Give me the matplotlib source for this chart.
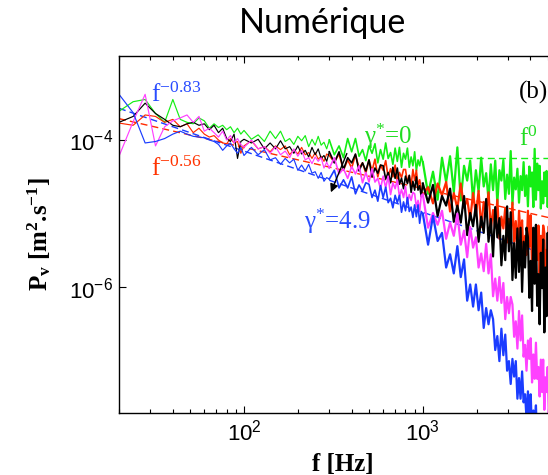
import numpy as np
import matplotlib
matplotlib.use('Agg')
import matplotlib.pyplot as plt
from matplotlib.ticker import LogLocator, NullLocator

# serif (Times-like) for math text, Helvetica-like for tick numbers
plt.rcParams['mathtext.fontset'] = 'custom'
plt.rcParams['mathtext.rm'] = 'Liberation Serif'
plt.rcParams['mathtext.it'] = 'Liberation Serif:italic'
plt.rcParams['mathtext.bf'] = 'Liberation Serif:bold'
plt.rcParams['mathtext.sf'] = 'Liberation Sans'
plt.rcParams['savefig.bbox'] = 'standard'

# frequency bins [Hz]
freq = [20, 24, 28, 32, 36, 40, 44, 48, 52, 56, 60, 64, 68, 72, 76, 80, 84, 88, 92, 96,
        100, 110, 120, 130, 140, 150, 160, 170, 180, 190, 200, 210, 220, 230, 240, 250, 260, 270, 280, 290,
        300, 320, 340, 360, 380, 400, 420, 440, 460, 480, 500, 520, 540, 560, 580, 600, 620, 640, 660, 680,
        700, 720, 740, 760, 780, 800, 820, 840, 860, 880, 900, 920, 940, 960, 980,
        1000, 1070, 1140, 1210, 1280, 1350, 1420, 1490, 1560, 1630, 1700, 1770, 1840, 1910, 1980, 2050,
        2120, 2190, 2260, 2330, 2400, 2470, 2540, 2610, 2680, 2750, 2820, 2890, 2960, 3030, 3100, 3170,
        3240, 3310, 3380, 3450, 3520, 3590, 3660, 3730, 3800, 3870, 3940, 4010, 4080, 4150, 4220, 4290,
        4360, 4430, 4500, 4570, 4640, 4710, 4780, 4850, 4920, 4990, 5060, 5130, 5200]

# log10 of P_v for each gamma*
green_log = [-3.61, -3.48, -3.45, -3.64, -3.76, -3.45, -3.72, -3.76, -3.78, -3.70, -3.74, -3.84, -3.78, -3.83, -3.80, -3.86, -3.82, -3.90, -3.84, -3.92,
             -3.87, -3.99, -3.93, -4.02, -3.88, -3.98, -3.88, -4.02, -3.98, -4.06, -3.95, -4.01, -3.94, -4.09, -3.99, -4.07, -3.95, -4.07, -4.03, -4.12,
             -4.00, -4.20, -4.08, -4.24, -3.98, -4.16, -3.98, -4.22, -4.13, -4.28, -4.08, -4.18, -4.05, -4.31, -4.13, -4.26, -4.04, -4.25, -4.17, -4.33,
             -4.11, -4.29, -4.10, -4.37, -4.18, -4.26, -4.11, -4.37, -4.23, -4.35, -4.16, -4.42, -4.27, -4.35, -4.22,
             -4.30, -4.73, -4.43, -4.81, -4.24, -4.57, -4.22, -4.71, -4.10, -4.82, -4.35, -4.55, -4.28, -4.83, -4.41, -4.70,
             -4.24, -4.63, -4.45, -4.81, -4.33, -4.68, -4.28, -4.86, -4.41, -4.55, -4.27, -4.80, -4.47, -4.73, -4.15, -4.88,
             -4.51, -4.67, -4.39, -4.85, -4.49, -4.68, -4.30, -4.76, -4.48, -4.90, -4.36, -4.63, -4.44, -4.91, -4.12, -4.81,
             -4.32, -4.68, -4.35, -4.93, -4.56, -4.86, -4.44, -4.76, -4.42, -4.91, -4.50, -4.67, -4.40]

red_log = [-3.77, -3.80, -3.66, -3.68, -3.76, -3.72, -3.82, -3.78, -3.90, -3.84, -3.92, -3.96, -3.94, -4.00, -4.04, -4.05, -3.98, -4.04, -4.02, -4.18,
           -4.08, -4.01, -4.12, -4.09, -4.16, -4.08, -4.13, -4.08, -4.20, -4.13, -4.19, -4.10, -4.20, -4.17, -4.25, -4.17, -4.26, -4.22, -4.29, -4.19,
           -4.21, -4.30, -4.19, -4.41, -4.27, -4.38, -4.20, -4.38, -4.31, -4.45, -4.27, -4.42, -4.26, -4.50, -4.34, -4.41, -4.28, -4.51, -4.39, -4.50,
           -4.34, -4.56, -4.44, -4.51, -4.40, -4.40, -4.58, -4.48, -4.62, -4.40, -4.55, -4.41, -4.62, -4.54, -4.67,
           -4.75, -4.64, -4.86, -4.59, -4.75, -4.57, -4.97, -4.72, -4.93, -4.59, -4.92, -4.80, -5.08, -4.72, -5.02, -4.69,
           -5.18, -4.84, -4.99, -4.71, -5.21, -4.95, -5.19, -4.81, -5.34, -5.04, -5.20, -4.92, -5.39, -5.07, -5.28, -4.85,
           -5.38, -5.10, -5.55, -4.96, -5.32, -5.09, -5.63, -5.30, -5.56, -4.96, -5.45, -5.02, -5.75, -5.35, -5.71, -5.18,
           -5.63, -5.16, -5.82, -5.30, -5.56, -5.16, -5.26, -5.86, -5.49, -5.99, -5.17, -5.71, -5.14]

black_log = [-3.76, -3.68, -3.50, -3.64, -3.72, -3.80, -3.82, -3.78, -3.76, -3.80, -3.78, -3.86, -3.80, -3.90, -3.84, -3.98, -4.02, -3.92, -4.25, -4.02,
             -3.99, -4.04, -3.99, -4.12, -4.04, -4.12, -4.01, -4.12, -4.09, -4.18, -4.08, -4.19, -4.14, -4.23, -4.10, -4.20, -4.12, -4.25, -4.21, -4.29,
             -4.16, -4.31, -4.16, -4.40, -4.24, -4.31, -4.19, -4.42, -4.31, -4.42, -4.27, -4.50, -4.38, -4.45, -4.34, -4.35, -4.53, -4.44, -4.58, -4.37,
             -4.52, -4.38, -4.60, -4.52, -4.66, -4.49, -4.59, -4.48, -4.71, -4.56, -4.68, -4.50, -4.68, -4.62, -4.77,
             -4.59, -4.85, -4.61, -5.03, -4.76, -4.89, -4.66, -5.11, -4.89, -5.12, -4.76, -5.29, -4.99, -5.17, -4.88, -5.38,
             -5.04, -5.26, -4.80, -5.38, -5.07, -5.58, -4.91, -5.32, -5.06, -5.70, -5.30, -5.63, -4.90, -5.51, -4.98, -5.90,
             -5.40, -5.87, -5.20, -5.79, -5.19, -6.06, -5.38, -5.73, -5.19, -5.32, -6.14, -5.64, -6.32, -5.19, -5.95, -5.15,
             -6.25, -5.82, -6.50, -5.53, -6.01, -5.35, -6.61, -5.73, -6.39, -5.26, -6.30, -5.88, -6.73]

magenta_log = [-4.22, -3.75, -3.38, -4.08, -3.82, -3.74, -3.70, -3.66, -3.76, -3.68, -3.88, -3.84, -3.90, -3.96, -3.88, -4.00, -3.94, -4.04, -3.98, -4.06,
               -4.10, -4.00, -4.12, -4.09, -4.18, -4.09, -4.20, -4.15, -4.24, -4.12, -4.22, -4.14, -4.27, -4.24, -4.32, -4.23, -4.29, -4.24, -4.38, -4.30,
               -4.38, -4.24, -4.46, -4.39, -4.52, -4.36, -4.46, -4.35, -4.58, -4.44, -4.57, -4.39, -4.57, -4.52, -4.66, -4.49, -4.65, -4.49, -4.74, -4.58,
               -4.66, -4.54, -4.77, -4.67, -4.78, -4.63, -4.86, -4.74, -4.82, -4.71, -4.73, -4.91, -4.82, -4.97, -4.75,
               -4.74, -5.19, -4.99, -5.15, -4.96, -5.34, -5.12, -5.30, -5.00, -5.42, -5.23, -5.59, -5.18, -5.46, -5.32, -5.73,
               -5.54, -5.78, -5.41, -5.81, -5.55, -6.12, -5.88, -6.18, -5.86, -6.21, -5.94, -6.43, -6.13, -6.35, -6.13, -6.23,
               -6.67, -6.46, -6.83, -6.32, -6.72, -6.38, -6.94, -6.78, -7.13, -6.72, -6.97, -6.69, -7.29, -6.91, -7.24, -6.75,
               -7.24, -7.08, -7.48, -6.98, -7.42, -6.98, -7.66, -7.22, -7.42, -7.08, -7.73, -7.42, -7.73]

blue_log = [-3.38, -3.63, -4.04, -4.02, -3.98, -3.92, -3.88, -3.92, -3.95, -3.96, -3.97, -4.00, -4.02, -4.06, -4.14, -4.08, -4.04, -4.12, -4.18, -4.10,
            -4.21, -4.10, -4.20, -4.13, -4.27, -4.24, -4.33, -4.25, -4.31, -4.26, -4.41, -4.34, -4.42, -4.33, -4.45, -4.43, -4.52, -4.44, -4.56, -4.51,
            -4.53, -4.41, -4.65, -4.54, -4.65, -4.50, -4.73, -4.61, -4.69, -4.58, -4.60, -4.78, -4.68, -4.83, -4.62, -4.78, -4.64, -4.85, -4.79, -4.92,
            -4.75, -4.85, -4.75, -4.98, -4.84, -4.96, -4.78, -4.97, -4.91, -5.05, -4.88, -5.04, -4.88, -5.13, -4.97,
            -5.00, -5.42, -5.03, -5.37, -5.26, -5.73, -5.55, -5.81, -5.44, -5.86, -5.62, -6.18, -5.96, -6.26, -5.96, -6.31,
            -6.07, -6.55, -6.28, -6.50, -6.31, -6.43, -6.85, -6.66, -7.00, -6.56, -6.92, -6.64, -7.13, -7.00, -7.31, -6.97,
            -7.21, -7.00, -7.51, -7.23, -7.51, -7.14, -7.56, -7.45, -7.78, -7.41, -7.76, -7.45, -7.98, -7.67, -7.84, -7.60,
            -8.11, -7.90, -8.15, -7.83, -8.34, -8.10, -8.28, -8.06, -8.50, -8.26, -8.46, -8.14, -8.60]

# power-law fits (end points, log10 P)
fit_f = [20, 6400]
red_fit_log = [-3.71, -5.11]
blue_fit_log = [-3.57, -5.65]
green_fit_f = [1500, 6400]
green_fit_log = [-4.24, -4.24]

c_green = '#14ee14'
c_red = '#ff2a00'
c_black = 'black'
c_magenta = '#ff40ff'
c_blue = '#1a3cff'

fig = plt.figure(figsize=(5.48, 4.75), dpi=100)
# axes run past the right edge of the figure, as in the cropped original
ax = fig.add_axes([119/548, 1 - 412.7/475, 448/548, 356.7/475])

# fits sit under the spectra
ax.plot(fit_f, 10**np.array(red_fit_log), color=c_red, lw=1, dashes=(5, 3), zorder=1.5)
ax.plot(fit_f, 10**np.array(blue_fit_log), color=c_blue, lw=1, dashes=(5, 3), zorder=1.5)
ax.plot(green_fit_f, 10**np.array(green_fit_log), color=c_green, lw=1, dashes=(5, 3), zorder=1.5)

# sparse low-f part thin, denser high-f parts heavier so the noise band fills in
k1 = freq.index(300)
k2 = freq.index(1000)
for vals, col in [(green_log, c_green), (red_log, c_red), (black_log, c_black),
                  (magenta_log, c_magenta), (blue_log, c_blue)]:
    p = 10**np.array(vals)
    ax.plot(freq[:k1 + 1], p[:k1 + 1], color=col, lw=0.85)
    ax.plot(freq[k1:k2 + 1], p[k1:k2 + 1], color=col, lw=1.2)
    ax.plot(freq[k2:], p[k2:], color=col, lw=1.6)

ax.set_xscale('log')
ax.set_yscale('log')
ax.set_xlim(20, 6400)
ax.set_ylim(10**-7.70, 10**-2.86)

ax.set_xticks([100, 1000])
ax.set_xticklabels([r'$\mathsf{10^{2}}$', r'$\mathsf{10^{3}}$'])
ax.xaxis.set_minor_locator(LogLocator(subs=[2, 3, 4, 5, 6, 7, 8, 9]))
ax.set_yticks([1e-6, 1e-4])
ax.set_yticklabels([r'$\mathsf{10^{-6}}$', r'$\mathsf{10^{-4}}$'])
ax.yaxis.set_minor_locator(NullLocator())
ax.tick_params(which='both', direction='in', top=True, right=True, labelsize=16, width=0.8)
ax.tick_params(which='major', length=5, pad=4)
ax.tick_params(which='minor', length=3)
for sp in ax.spines.values():
    sp.set_linewidth(1.0)

ax.set_xlabel('f [Hz]', fontsize=18, family='Liberation Serif', fontweight='bold', va='top')
ax.xaxis.set_label_coords(0.5, -0.113)
ax.set_ylabel(r'P$_\mathbf{v}$ [m$^\mathbf{2}$.s$^\mathbf{-1}$]', fontsize=18,
              family='Liberation Serif', fontweight='bold')
ax.yaxis.set_label_coords(-0.147, 0.5)

fig.text(323/548, 1 - 33/475, 'Numérique', fontsize=24.5, family='Lato',
         ha='center', va='baseline')

# annotations
serif = 'Liberation Serif'
ax.text(30.2, 3.3e-4, r'f$^{-0.83}$', color='#2a4dff', fontsize=18, family=serif, va='baseline')
ax.text(30.2, 3.3e-5, r'f$^{-0.56}$', color='#ff3300', fontsize=18, family=serif, va='baseline')
ax.text(468, 8.9e-5, r'$\mathrm{\gamma}^{*}$=0', color='#22dd22', fontsize=18, family=serif, va='baseline')
ax.text(216, 6.3e-6, r'$\mathrm{\gamma}^{*}$=4.9', color='#2a4dff', fontsize=18, family=serif, va='baseline')
ax.text(3435, 8.4e-5, r'f$^{0}$', color='#22dd22', fontsize=18, family=serif, va='baseline')
ax.text(3460, 3.7e-4, '(b)', color='black', fontsize=18, family=serif, va='baseline')
ax.annotate('', xy=(302, 1.8e-5), xytext=(381, 7.1e-5), zorder=6,
            arrowprops=dict(arrowstyle='-|>', color='black', lw=1, mutation_scale=12))

fig.savefig('out.png', dpi=100)
